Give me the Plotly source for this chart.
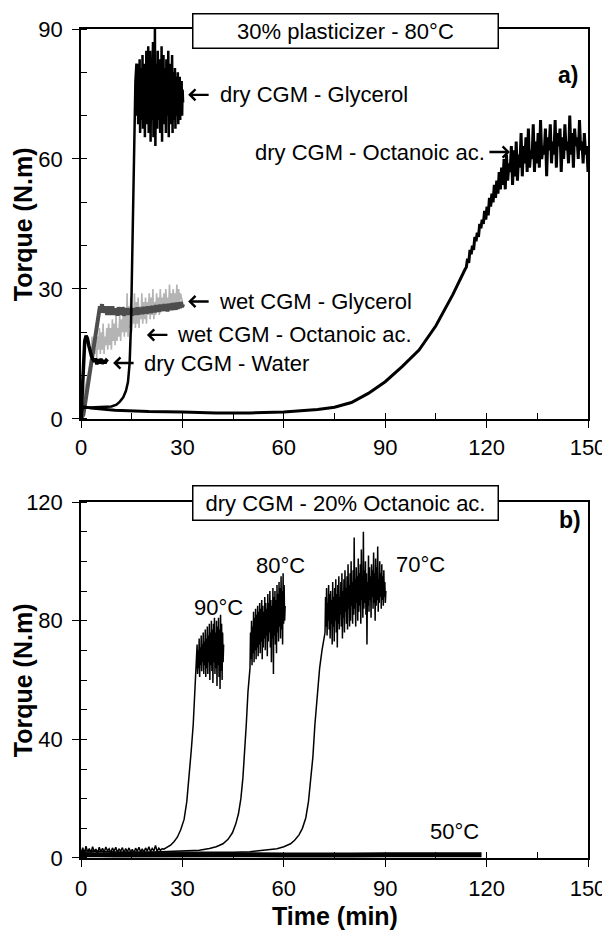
import numpy as np
import plotly.graph_objects as go

# ---------------- Panel a) 30% plasticizer - 80°C ----------------
# dry CGM - Glycerol
dry_gly_t = [0, 0.3, 1, 3, 6, 9, 10.5, 11.5, 12.5, 13.3, 13.9, 14.4, 14.8, 15.2, 15.5, 15.8, 16.1, 16.4]
dry_gly_v = [0, 2.3, 2.6, 2.7, 2.8, 2.9, 3.3, 4.0, 5.0, 6.5, 8.5, 13, 22, 40, 55, 68, 78, 82]
dry_gly_noise = [80, 70, 82, 68, 79, 72, 83, 66, 78, 71, 81, 69, 84, 67, 77, 73, 82, 65, 80, 70,
                 85, 68, 79, 72, 86, 66, 81, 71, 85, 64, 83, 69, 78, 73, 87, 65, 80, 70, 90, 63,
                 79, 72, 82, 67, 85, 69, 77, 74, 83, 66, 80, 71, 86, 64, 79, 70, 84, 68, 81, 73,
                 78, 66, 83, 70, 80, 72, 85, 65, 77, 71, 82, 68, 79, 73, 84, 66, 80, 69, 78, 72,
                 81, 67, 79, 70, 77, 73, 80, 68, 78, 71, 79, 69, 77, 72, 78, 70, 76, 73]
dry_gly_noise_span = (16.5, 30.2)

# dry CGM - Octanoic ac.
dry_oct_t = [0, 0.3, 1, 3, 10, 20, 30, 40, 50, 60, 65, 70, 75, 80, 85, 90, 95, 100, 105, 110, 113.6]
dry_oct_v = [0, 2.5, 2.8, 2.5, 2.0, 1.7, 1.6, 1.4, 1.4, 1.6, 1.9, 2.2, 2.7, 3.8, 5.9, 8.6, 12.1, 15.9, 21.5, 28.7, 34.5]
dry_oct_noise = [35, 37, 36, 39, 38, 40, 39, 42, 41, 43,
                 42, 45, 44, 46, 45, 48, 46, 49, 47, 51,
                 49, 52, 50, 54, 51, 55, 52, 57, 53, 58,
                 54, 60, 53, 61, 55, 59, 57, 63, 54, 62,
                 56, 64, 55, 61, 58, 66, 56, 63, 59, 65,
                 57, 67, 58, 62, 60, 68, 57, 64, 59, 66,
                 58, 69, 60, 63, 61, 67, 56, 65, 62, 68,
                 59, 64, 61, 69, 58, 66, 63, 67, 57, 65,
                 60, 68, 62, 64, 59, 70, 61, 66, 58, 67,
                 63, 65, 60, 69, 62, 64, 59, 66, 61, 63, 57]
dry_oct_noise_span = (114, 150)

# wet CGM - Glycerol
wet_gly_t = [0, 0.7, 1.5, 2.5, 3.5, 4.5, 5.3]
wet_gly_v = [0, 1, 5, 10, 15, 20, 24.5]
wet_gly_noise = [26, 25, 26.5, 24.5, 26, 24.5, 25.5, 24, 26, 24.5,
                 25.5, 24, 26, 24, 25.5, 24.5, 25.5, 23.8, 25.8, 24.2,
                 25.5, 24, 25.8, 23.8, 25.4, 24.2, 25.6, 24, 25.5, 24.3,
                 25.4, 23.8, 25.6, 24.2, 25.3, 24, 25.8, 24.1, 25.5, 24.4,
                 25.7, 24.2, 25.9, 24.5, 25.6, 24.3, 26, 24.6, 25.8, 24.4,
                 26.1, 24.8, 25.9, 24.6, 26.3, 24.9, 26, 24.7, 26.4, 25,
                 26.2, 24.9, 26.5, 25.1, 26.3, 24.8, 26.6, 25.2, 26.4, 25.1,
                 26.8, 25.3, 26.5, 25.2, 26.9, 25.4, 26.7, 25.6, 27, 25.8, 26.5]
wet_gly_noise_span = (5.6, 30.2)

# wet CGM - Octanoic ac.
wet_oct_t = [0, 0.5, 1.2, 2.0, 2.8]
wet_oct_v = [0, 3, 7, 10, 13]
wet_oct_noise = [14, 19, 13, 18, 15, 20, 14, 19, 16, 21,
                 15, 20, 16, 22, 15, 19, 17, 21, 16, 22,
                 17, 21, 16, 23, 18, 22, 17, 24, 18, 21,
                 19, 24, 18, 23, 20, 26, 19, 25, 20, 29,
                 19, 26, 21, 28, 20, 25, 22, 29, 21, 27,
                 22, 28, 21, 26, 23, 29, 22, 27, 23, 28,
                 22, 27, 24, 29, 23, 28, 24, 30, 23, 27,
                 24, 29, 25, 28, 24, 30, 25, 28, 26, 29,
                 25, 30, 26, 28, 25, 31, 26, 29, 27, 30,
                 26, 29, 27, 31, 26, 30, 27, 29, 28, 27]
wet_oct_noise_span = (3.0, 30.0)

# dry CGM - Water
water_t = [0, 0.4, 0.8, 1.1, 1.5, 1.9, 2.3, 2.7, 3.1, 3.5, 3.9, 4.3, 4.7, 5.1, 5.5, 5.9, 6.3, 6.7, 7.1, 7.5, 7.9]
water_v = [0, 6, 14, 18, 19.2, 18.6, 17, 15.5, 14.5, 13.8, 13.2, 14, 12.6, 13.8, 12.8, 13.9, 12.7, 13.6, 12.9, 13.5, 13.2]

# ---------------- Panel b) dry CGM - 20% Octanoic ac. ----------------
baseline_noise = [0, 3.5, 1.5, 4, 2, 3.2, 1.8, 3.8, 2.2, 3, 1.6, 3.6, 2.1, 3.3, 1.9, 3.7, 2.4, 3.1, 1.7, 3.4,
                  2.2, 3.6, 1.9, 3, 2.3, 3.5, 1.8, 3.2, 2.1, 3.4, 2, 2.9, 1.7, 3.3, 2.2, 3.6, 2, 3.1, 1.9, 3.4,
                  2.3, 3.8, 2.1, 3.2, 2.4, 4.2, 2.2, 3.3, 2.6, 3.1]
baseline_span = (0, 24)

t90_t = [24.5, 25.5, 26.5, 27.5, 28.5, 29.5, 30.5, 31.3, 32, 32.6, 33.2, 33.7, 34.1]
t90_v = [3, 3.6, 4.3, 5.5, 7, 9.5, 13, 19, 27, 36, 45, 55, 63]
t90_noise = [66, 72, 62, 70, 64, 74, 61, 71, 65, 75,
             63, 72, 66, 76, 62, 73, 65, 77, 61, 74,
             64, 78, 62, 75, 66, 79, 60, 76, 65, 80,
             63, 77, 59, 79, 66, 81, 62, 76, 64, 80,
             58, 78, 65, 81, 61, 77, 57, 82, 63, 79,
             60, 76, 66, 72]
t90_noise_span = (34.2, 42.2)

t80_t = [0, 0.3, 5, 10, 20, 30, 35, 38, 40, 42, 43.5, 44.8, 45.8, 46.6, 47.3, 47.9, 48.4, 48.9, 49.4, 49.8]
t80_v = [0, 2.5, 2.2, 2.0, 1.9, 2.2, 2.6, 3.2, 3.8, 4.8, 6.3, 8.5, 11.5, 15, 20, 27, 35, 45, 56, 63]
t80_noise = [64, 76, 67, 80, 65, 78, 69, 83, 66, 81,
             70, 84, 67, 82, 71, 85, 68, 83, 72, 86,
             69, 84, 73, 87, 67, 85, 71, 83, 74, 88,
             70, 86, 75, 84, 68, 89, 73, 86, 76, 90,
             71, 87, 66, 85, 74, 91, 62, 88, 75, 90,
             72, 87, 69, 92, 76, 89, 73, 93, 78, 91,
             74, 95, 77, 90, 72, 96, 79, 92, 80, 85]
t80_noise_span = (50.0, 60.4)

t70_t = [0, 0.3, 10, 20, 30, 40, 45, 50, 55, 58, 60, 62, 63.2, 64.5, 65.5, 66.5, 67.3, 68, 68.6, 69.2, 69.9, 70.6, 71.3, 72]
t70_v = [0, 2.5, 2.0, 1.9, 1.8, 1.8, 1.9, 2.1, 2.6, 3.1, 3.8, 4.8, 6, 7.8, 10, 13.5, 19, 26, 34, 45, 56, 64, 70, 74]
t70_noise = [76, 88, 78, 91, 75, 86, 80, 92, 77, 89,
             74, 90, 79, 87, 72, 93, 78, 88, 73, 91,
             80, 94, 76, 89, 71, 92, 79, 95, 77, 88,
             82, 93, 78, 96, 74, 90, 81, 94, 76, 97,
             83, 91, 79, 95, 77, 99, 84, 92, 78, 96,
             80, 100, 85, 93, 79, 97, 82, 108, 84, 94,
             78, 98, 86, 95, 80, 101, 83, 96, 85, 99,
             79, 104, 87, 94, 81, 110, 84, 97, 86, 100,
             82, 96, 72, 93, 85, 102, 83, 98, 87, 95,
             81, 99, 88, 97, 84, 103, 86, 96, 80, 101,
             85, 98, 87, 105, 83, 94, 86, 100, 88, 96,
             84, 99, 87, 95, 85, 97, 88, 93, 86, 90]
t70_noise_span = (72.2, 90.2)

t50_t = [0, 0.3, 10, 20, 30, 40, 50, 60, 70, 80, 90, 100, 110, 118.5]
t50_v = [0, 1.2, 1.0, 1.1, 0.9, 1.0, 1.1, 1.0, 1.2, 1.0, 1.1, 1.2, 1.0, 1.1]

# ---------------- texts ----------------
title_a = "30% plasticizer - 80°C"
title_b = "dry CGM - 20% Octanoic ac."
y_title = "Torque (N.m)"
x_title = "Time (min)"
# (text, text x, arrow tip x, y, text anchor)
labels_a = [
    ("dry CGM - Glycerol", 40.5, 31.7, 74.8, "left"),
    ("dry CGM - Octanoic ac.", 120.0, 126.9, 61.6, "right"),
    ("wet CGM - Glycerol", 40.1, 31.7, 27.1, "left"),
    ("wet CGM - Octanoic ac.", 27.8, 19.5, 19.4, "left"),
    ("dry CGM - Water", 18.0, 9.5, 12.9, "left"),
]
labels_b = [("90°C", 40.8, 84.6), ("80°C", 59.0, 98.7), ("70°C", 100.3, 99.0), ("50°C", 110.6, 8.8)]


def join(t, v, noise, span):
    tn = np.linspace(span[0], span[1], len(noise))
    return list(t) + list(tn), list(v) + list(noise)


FONT = "Liberation Sans, Arial, sans-serif"
fig = go.Figure()


def add(x, y, color, width, xa="x", ya="y"):
    fig.add_trace(go.Scatter(x=x, y=y, mode="lines", line=dict(color=color, width=width),
                             xaxis=xa, yaxis=ya, showlegend=False, hoverinfo="skip"))


# panel a traces
x, y = join(wet_oct_t, wet_oct_v, wet_oct_noise, wet_oct_noise_span)
add(x, y, "#b4b4b4", 1.6)
x, y = join(wet_gly_t, wet_gly_v, wet_gly_noise, wet_gly_noise_span)
add(x, y, "#4d4d4d", 4)
add(water_t, water_v, "black", 3.5)
x, y = join(dry_gly_t, dry_gly_v, dry_gly_noise, dry_gly_noise_span)
add(x, y, "black", 2.5)
x, y = join(dry_oct_t, dry_oct_v, dry_oct_noise, dry_oct_noise_span)
add(x, y, "black", 3)

# panel b traces
x, y = join([], [], baseline_noise, baseline_span)
x, y = join(x + list(t90_t), y + list(t90_v), t90_noise, t90_noise_span)
add(x, y, "black", 1.5, "x2", "y2")
x, y = join(t80_t, t80_v, t80_noise, t80_noise_span)
add(x, y, "black", 1.5, "x2", "y2")
x, y = join(t70_t, t70_v, t70_noise, t70_noise_span)
add(x, y, "black", 1.5, "x2", "y2")
add(t50_t, t50_v, "black", 5, "x2", "y2")

axis_common = dict(showline=True, linecolor="black", linewidth=1.5, mirror=True,
                   ticks="outside", ticklen=7, tickwidth=1.3, tickcolor="black",
                   showgrid=False, zeroline=False, automargin=False,
                   tickfont=dict(family=FONT, size=22, color="black"))
minor_x = dict(ticks="inside", ticklen=6, dtick=15, tick0=0, tickcolor="black", tickwidth=1.2)
minor_y = dict(ticks="inside", ticklen=6, dtick=10, tick0=0, tickcolor="black", tickwidth=1.2)

# the page body adds an 8 px offset, so the figure is 8 px smaller and margins shifted
fig.update_layout(
    width=602, height=922,
    margin=dict(l=73, r=22, t=21, b=72),
    paper_bgcolor="white", plot_bgcolor="white",
    font=dict(family=FONT, color="black"),
    xaxis=dict(axis_common, domain=[0, 1], range=[0, 150], tickvals=[0, 30, 60, 90, 120, 150],
               minor=minor_x, anchor="y", ticklabelstandoff=1),
    yaxis=dict(axis_common, domain=[0.5296, 1], range=[0, 90], tickvals=[0, 30, 60, 90],
               minor=minor_y, anchor="x", ticklabelstandoff=5),
    xaxis2=dict(axis_common, domain=[0, 1], range=[0, 150], tickvals=[0, 30, 60, 90, 120, 150],
                minor=minor_x, anchor="y2", ticklabelstandoff=3),
    yaxis2=dict(axis_common, domain=[0, 0.4294], range=[0, 120], tickvals=[0, 40, 80, 120],
                minor=minor_y, anchor="x2", ticklabelstandoff=5),
)

ann = []
for txt, ya in ((title_a, 0.997), (title_b, 0.4282)):
    ann.append(dict(text=txt, xref="paper", yref="paper", x=0.5217, y=ya, xanchor="center",
                    yanchor="middle", showarrow=False, bgcolor="white", bordercolor="black",
                    borderwidth=1.5, borderpad=3, width=298, height=27,
                    font=dict(family=FONT, size=22, color="black")))
# axis titles
for ya in ((0.5296 + 1) / 2, 0.4294 / 2):
    ann.append(dict(text="<b>%s</b>" % y_title, xref="paper", yref="paper", x=-0.114, y=ya,
                    textangle=-90, showarrow=False, xanchor="center", yanchor="middle",
                    font=dict(family=FONT, size=25, color="black")))
ann.append(dict(text="<b>%s</b>" % x_title, xref="paper", yref="paper", x=0.501, y=-0.0705,
                showarrow=False, xanchor="center", yanchor="middle",
                font=dict(family=FONT, size=25, color="black")))
# panel a labels with arrows
for txt, tx, tip, yy, anc in labels_a:
    ann.append(dict(text=txt, x=tx, y=yy, xref="x", yref="y", xanchor=anc, yanchor="middle",
                    showarrow=False, font=dict(family=FONT, size=22, color="black")))
    ann.append(dict(text="", x=tip, y=yy, xref="x", yref="y", showarrow=True,
                    ax=(22 if anc == "left" else -22), ay=0, arrowhead=4, arrowsize=0.9,
                    arrowwidth=2.4, arrowcolor="black"))
for txt, xx, yy in labels_b:
    ann.append(dict(text=txt, x=xx, y=yy, xref="x2", yref="y2", xanchor="center", yanchor="middle",
                    showarrow=False, font=dict(family=FONT, size=22, color="black")))
ann.append(dict(text="<b>a)</b>", x=144.1, y=79.4, xref="x", yref="y", showarrow=False,
                font=dict(family=FONT, size=23, color="black")))
ann.append(dict(text="<b>b)</b>", x=144.7, y=113.9, xref="x2", yref="y2", showarrow=False,
                font=dict(family=FONT, size=23, color="black")))
fig.update_layout(annotations=ann)

fig.write_html("out.html")
